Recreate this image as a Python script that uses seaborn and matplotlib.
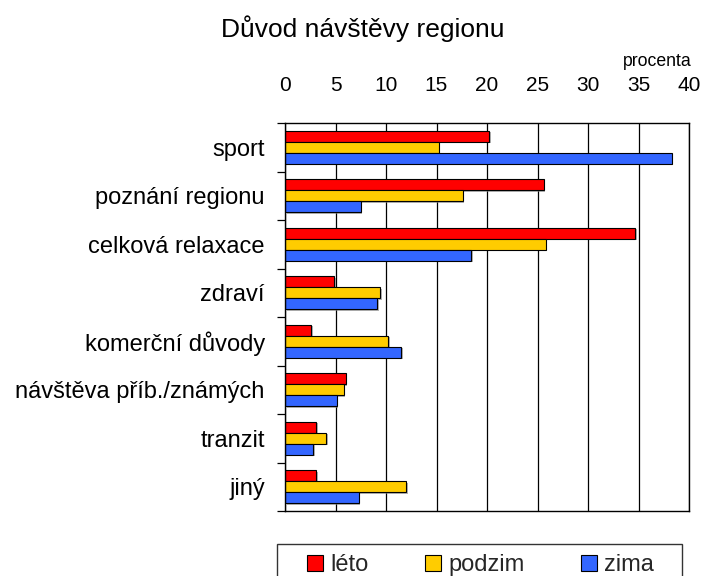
"""
Důvod návštěvy regionu — grouped horizontal bar chart (léto / podzim / zima).
"""

import numpy as np
import pandas as pd
import matplotlib
matplotlib.use("Agg")
import matplotlib.pyplot as plt
import matplotlib.patheffects as pe
from matplotlib.patches import Rectangle
import seaborn as sns

# ── Data ──────────────────────────────────────────────────────────────────────

categories = [
    "sport",
    "poznání regionu",
    "celková relaxace",
    "zdraví",
    "komerční důvody",
    "návštěva příb./známých",
    "tranzit",
    "jiný",
]
seasons = ["léto", "podzim", "zima"]

leto = [20.2, 25.6, 34.7, 4.9, 2.6, 6.0, 3.1, 3.1]
podzim = [15.2, 17.6, 25.8, 9.4, 10.2, 5.8, 4.1, 12.0]
zima = [38.3, 7.5, 18.4, 9.1, 11.5, 5.1, 2.8, 7.3]

x_ticks = [0, 5, 10, 15, 20, 25, 30, 35, 40]
colors = ["#FF0000", "#FFCC00", "#3366FF"]

# ── Config ────────────────────────────────────────────────────────────────────

W, H = 703, 576
FONT = "Liberation Sans"

df = pd.DataFrame({
    "kategorie": categories * 3,
    "sezona": [s for s in seasons for _ in categories],
    "procenta": leto + podzim + zima,
})

# ── Plot ──────────────────────────────────────────────────────────────────────

sns.set_theme(style="white")
plt.rcParams["font.family"] = [FONT, "DejaVu Sans"]

fig = plt.figure(figsize=(W / 100, H / 100), dpi=100)
ax = fig.add_axes([285 / W, 1 - 511 / H, 404 / W, 388 / H])

sns.barplot(
    data=df, x="procenta", y="kategorie", hue="sezona",
    order=categories, hue_order=seasons, palette=colors, saturation=1,
    orient="h", width=0.68, edgecolor="black", linewidth=0.8,
    legend=False, ax=ax,
)

shadow = [pe.SimplePatchShadow(offset=(1.2, -1.2), shadow_rgbFace="#808080", alpha=0.6),
          pe.Normal()]
for patch in ax.patches:
    patch.set_path_effects(shadow)

ax.set_xlim(0, 40)
ax.set_xticks(x_ticks)
ax.xaxis.tick_top()
ax.tick_params(axis="x", length=0, pad=20.5, labelsize=15, colors="black")
ax.xaxis.grid(True, color="black", linewidth=0.9)
ax.set_axisbelow(True)

ax.set_yticks(np.arange(-0.5, len(categories), 1), minor=True)
ax.tick_params(axis="y", which="major", length=0, pad=14.5, labelsize=17, colors="black")
ax.tick_params(axis="y", which="minor", left=True, length=5.5, width=0.9,
               color="black", direction="out")
ax.set_xlabel("")
ax.set_ylabel("")

for spine in ax.spines.values():
    spine.set_visible(True)
    spine.set_color("black")
    spine.set_linewidth(1.0)

fig.text(363 / W, 1 - 36.7 / H, "Důvod návštěvy regionu", ha="center",
         va="baseline", fontsize=19, color="black")
fig.text(692 / W, 1 - 66.5 / H, "procenta", ha="right", va="baseline",
         fontsize=12.7, color="black")

# legend
handles = [Rectangle((0, 0), 1, 1, facecolor=c, edgecolor="black", linewidth=0.8)
           for c in colors]
fig.legend(
    handles, seasons, ncol=3, frameon=False, fontsize=17,
    loc="center left", bbox_to_anchor=(300 / W, 1 - 565 / H),
    handlelength=0.68, handleheight=0.68, handletextpad=0.3,
    columnspacing=2.4, borderpad=0.3, borderaxespad=0,
)
fig.patches.append(Rectangle(
    (277 / W, -0.05), (682 - 277) / W, 0.05 + (576 - 544) / H,
    transform=fig.transFigure, facecolor="none", edgecolor="#333333",
    linewidth=1.0, figure=fig,
))

fig.savefig("out.png", dpi=100)
plt.close(fig)
